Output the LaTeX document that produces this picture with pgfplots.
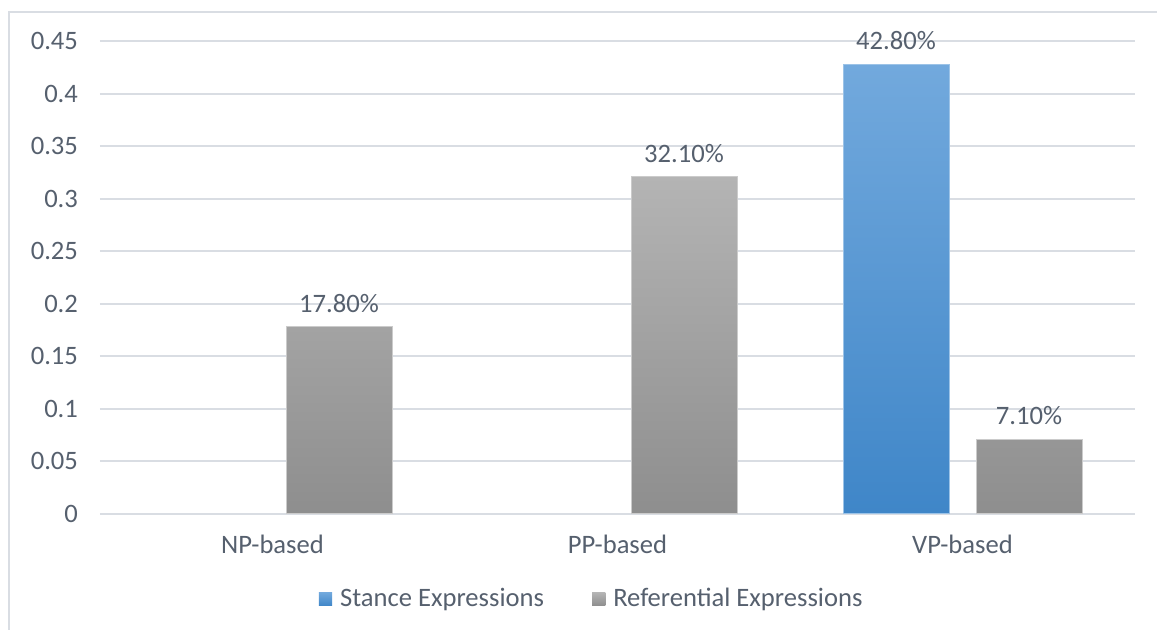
\documentclass[border=0pt]{standalone}
\usepackage{fontspec}
\setmainfont{Carlito}
\usepackage{pgfplots}
\pgfplotsset{compat=1.18}
\definecolor{txt}{HTML}{56606E}
\definecolor{gridc}{HTML}{D9DDE3}
\definecolor{blueTop}{HTML}{72A9DD}
\definecolor{blueBot}{HTML}{3F86C8}
\definecolor{grayTop}{HTML}{B4B4B4}
\definecolor{grayBot}{HTML}{8E8E8E}
\pgfplotsset{
  squarelegend/.style={legend image code/.code={\path[##1,draw=none] (0pt,-3.3pt) rectangle (6.6pt,3.3pt);}}
}
\newcommand{\chartfont}{\fontsize{13.3}{15}\selectfont}
\begin{document}
\begin{tikzpicture}
\path[use as bounding box] (0,0) rectangle (578.5pt,315pt);
\draw[gridc, line width=1pt] (4.5pt,-2pt) -- (4.5pt,309pt) -- (580pt,309pt);
\begin{axis}[
  at={(50pt,58pt)}, anchor=south west,
  scale only axis, width=517.5pt, height=236.5pt,
  clip=false,
  ymin=0, ymax=0.45,
  ytick={0,0.05,0.1,0.15,0.2,0.25,0.3,0.35,0.4,0.45},
  xmin=-0.5, xmax=2.5,
  xtick={0,1,2}, xticklabels={NP-based,PP-based,VP-based},
  ymajorgrids, major grid style={gridc, line width=1pt},
  axis line style={draw=none}, major tick length=0pt,
  /pgf/number format/assume math mode=true,
  /pgf/number format/fixed, /pgf/number format/precision=2,
  tick label style={txt, font=\chartfont},
  yticklabel style={xshift=-7.5pt},
  xticklabel style={yshift=-7pt},
  ybar=13.5pt, bar width=53pt,
  visualization depends on=rawy \as \rawy,
  nodes near coords={\pgfmathparse{100*\rawy}\pgfmathprintnumber[fixed,fixed zerofill,precision=2]{\pgfmathresult}\%},
  every node near coord/.append style={txt, font=\chartfont, yshift=3.5pt},
  squarelegend,
  legend columns=2,
  legend style={at={(0.476,-0.18)}, anchor=center, draw=none, fill=none,
    font=\chartfont, text=txt,
    /tikz/every odd column/.append style={column sep=2pt},
    /tikz/every even column/.append style={column sep=22pt}},
]
% Stance expressions: only the VP-based group is non-zero
\addplot[top color=blueTop, bottom color=blueBot, draw=blueTop!70!white, line width=0.5pt]
  coordinates {(2,0.428)};
% Referential expressions
\addplot[top color=grayTop, bottom color=grayBot, draw=grayTop!70!white, line width=0.5pt]
  coordinates {(0,0.178) (1,0.321) (2,0.071)};
\legend{Stance Expressions, Referential Expressions}
\end{axis}
\end{tikzpicture}
\end{document}
